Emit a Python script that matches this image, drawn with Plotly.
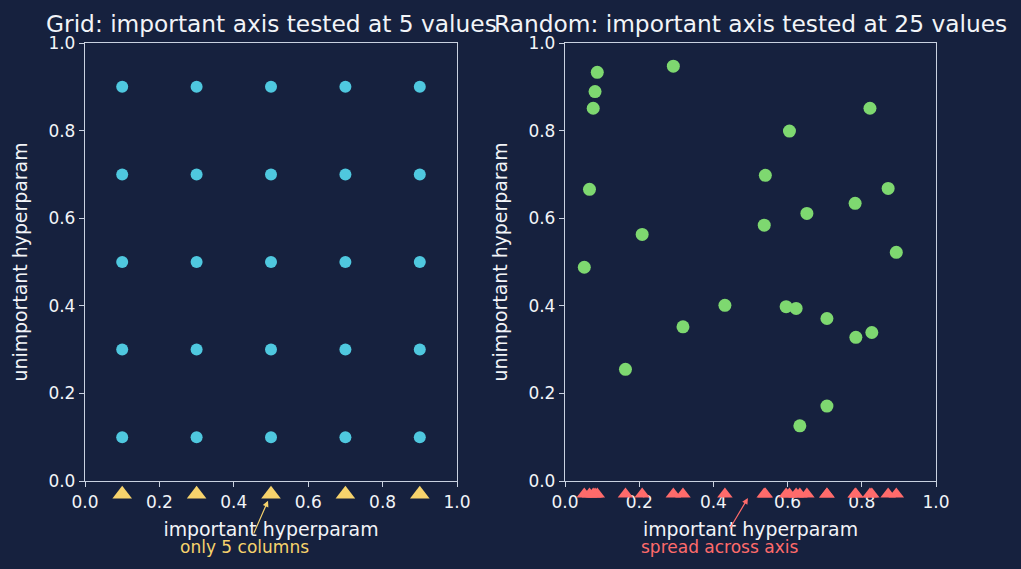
import plotly.graph_objects as go

# ---- data ----
grid_vals = [0.1, 0.3, 0.5, 0.7, 0.9]
grid_x = [x for x in grid_vals for _ in grid_vals]
grid_y = [y for _ in grid_vals for y in grid_vals]

rand_x = [0.087, 0.081, 0.076, 0.292, 0.066, 0.822, 0.605, 0.540, 0.871, 0.782,
          0.652, 0.537, 0.208, 0.893, 0.052, 0.431, 0.596, 0.623, 0.318, 0.706,
          0.784, 0.827, 0.163, 0.706, 0.633]
rand_y = [0.933, 0.889, 0.851, 0.947, 0.666, 0.851, 0.799, 0.698, 0.668, 0.634,
          0.611, 0.584, 0.563, 0.522, 0.488, 0.401, 0.398, 0.394, 0.352, 0.371,
          0.328, 0.339, 0.255, 0.171, 0.126]
rug_y = -0.03

tick_vals = [0.0, 0.2, 0.4, 0.6, 0.8, 1.0]
tick_text = ["0.0", "0.2", "0.4", "0.6", "0.8", "1.0"]

titles = ["Grid: important axis tested at 5 values",
          "Random: important axis tested at 25 values"]
xlabel = "important hyperparam"
ylabel = "unimportant hyperparam"

# ---- style ----
BG = "#16213e"
FG = "#f2f4f8"
SPINE = "#c9d1e0"
CYAN = "#4fc8df"
YELLOW = "#f7d36c"
GREEN = "#7ed870"
RED = "#ff6b6b"
FONT = "DejaVu Sans"

W, H = 1021, 569
PX_TOP, PX_BOT = 43, 481
ydom = [(H - PX_BOT) / H, (H - PX_TOP) / H]
xdom1 = [85 / W, 457 / W]
xdom2 = [565 / W, 936 / W]
# strip below each plot, same data scale as main y axis (for rug + arrows)
strip_dom = [0, (H - PX_BOT) / H]
strip_range = [-(H - PX_BOT) / (PX_BOT - PX_TOP), 0]

fig = go.Figure()

fig.add_trace(go.Scatter(x=grid_x, y=grid_y, mode="markers",
                         marker=dict(color=CYAN, size=12), xaxis="x", yaxis="y",
                         showlegend=False))
fig.add_trace(go.Scatter(x=grid_vals, y=[rug_y] * len(grid_vals), mode="markers",
                         marker=dict(color=YELLOW, size=17, symbol="triangle-up"),
                         xaxis="x", yaxis="y3", cliponaxis=False, showlegend=False))
fig.add_trace(go.Scatter(x=rand_x, y=rand_y, mode="markers",
                         marker=dict(color=GREEN, size=13), xaxis="x2", yaxis="y2",
                         showlegend=False))
fig.add_trace(go.Scatter(x=rand_x, y=[rug_y] * len(rand_x), mode="markers",
                         marker=dict(color=RED, size=13.5, symbol="triangle-up"),
                         xaxis="x2", yaxis="y4", cliponaxis=False, showlegend=False))


def xaxis(dom, anchor):
    return dict(domain=dom, anchor=anchor, range=[0, 1], tickvals=tick_vals,
                ticktext=tick_text, showgrid=False, zeroline=False,
                showline=True, linecolor=SPINE, linewidth=1.3, mirror=True,
                ticks="outside", ticklen=5, tickwidth=1.3, tickcolor=SPINE,
                tickfont=dict(size=17, color=FG, family=FONT),
                title=dict(text=xlabel, font=dict(size=18.9, color=FG, family=FONT),
                           standoff=12),
                automargin=False)


def yaxis(anchor):
    return dict(domain=ydom, anchor=anchor, range=[0, 1], tickvals=tick_vals,
                ticktext=tick_text, showgrid=False, zeroline=False,
                showline=True, linecolor=SPINE, linewidth=1.3, mirror=True,
                ticks="outside", ticklen=5, tickwidth=1.3, tickcolor=SPINE,
                tickfont=dict(size=17, color=FG, family=FONT),
                title=dict(text=ylabel, font=dict(size=18.9, color=FG, family=FONT),
                           standoff=15),
                automargin=False)


def strip(anchor):
    return dict(domain=strip_dom, anchor=anchor, range=strip_range, visible=False,
                showgrid=False, zeroline=False, fixedrange=True)


annotations = [
    dict(text=titles[0], xref="paper", yref="paper", x=(85 + 457) / 2 / W, y=(H - 23) / H,
         showarrow=False, xanchor="center", yanchor="middle",
         font=dict(size=23.3, color=FG, family=FONT)),
    dict(text=titles[1], xref="paper", yref="paper", x=(565 + 936) / 2 / W, y=(H - 23) / H,
         showarrow=False, xanchor="center", yanchor="middle",
         font=dict(size=23.3, color=FG, family=FONT)),
    # arrows
    dict(text="", x=0.492, y=-0.045, xref="x", yref="y3", ax=0.452, ay=-0.123,
         axref="x", ayref="y3", showarrow=True, arrowhead=2, arrowsize=1,
         arrowwidth=1.2, arrowcolor=YELLOW),
    dict(text="", x=0.493, y=-0.039, xref="x2", yref="y4", ax=0.442, ay=-0.112,
         axref="x2", ayref="y4", showarrow=True, arrowhead=2, arrowsize=1,
         arrowwidth=1.2, arrowcolor=RED),
    # annotation texts
    dict(text="only 5 columns", x=0.25, y=-0.151, xref="x", yref="y3", showarrow=False,
         xanchor="left", yanchor="middle", font=dict(size=17, color=YELLOW, family=FONT)),
    dict(text="spread across axis", x=0.2, y=-0.151, xref="x2", yref="y4", showarrow=False,
         xanchor="left", yanchor="middle", font=dict(size=17, color=RED, family=FONT)),
]

fig.update_layout(
    width=W, height=H, margin=dict(l=0, r=0, t=0, b=0),
    paper_bgcolor=BG, plot_bgcolor=BG,
    font=dict(family=FONT, color=FG),
    xaxis=xaxis(xdom1, "y"), yaxis=yaxis("x"),
    xaxis2=xaxis(xdom2, "y2"), yaxis2=yaxis("x2"),
    yaxis3=strip("x"), yaxis4=strip("x2"),
    annotations=annotations,
    showlegend=False,
)

fig.write_html("out.html")
